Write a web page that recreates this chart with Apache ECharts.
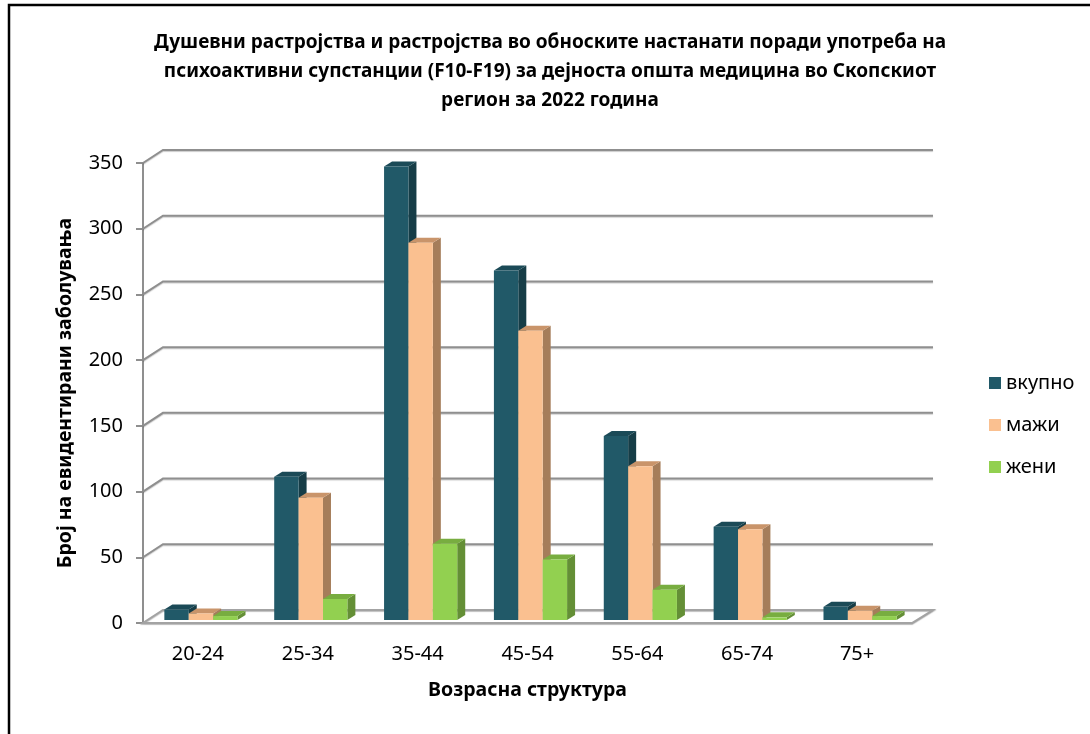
<!DOCTYPE html>
<html>
<head>
<meta charset="utf-8">
<script src="https://cdn.jsdelivr.net/npm/echarts@6/dist/echarts.min.js"></script>
<style>
  html, body { margin: 0; padding: 0; background: #fff; }
  #chart { width: 1090px; height: 734px; }
</style>
</head>
<body>
<div id="chart"></div>
<script>
// Age groups and registered cases per group
const categories = ['20-24', '25-34', '35-44', '45-54', '55-64', '65-74', '75+'];
const seriesNames = ['вкупно', 'мажи', 'жени'];
const totalValues  = [8, 109, 345, 266, 140, 71, 10];
const maleValues   = [5, 93, 287, 220, 117, 69, 7];
const femaleValues = [3, 16, 58, 46, 23, 2, 3];
const yTicks = [0, 50, 100, 150, 200, 250, 300, 350];

const FONT = '"Noto Sans", "DejaVu Sans", sans-serif';

// Pseudo-3D geometry: back wall offset and bar depth offset (pixels)
const WALL_DX = 20, WALL_DY = -13;
const BAR_DX = 8, BAR_DY = -5;
const BAR_SHIFT_X = 3, BAR_SHIFT_Y = -3;

const palette = [
  { front: '#215968', top: '#1b4a57', side: '#163d47' },
  { front: '#fac090', top: '#c9946a', side: '#a57d5a' },
  { front: '#92d050', top: '#78ad40', side: '#648f36' }
];

const gridColor = '#8f8f8f';

function wallRenderer(params, api) {
  const cs = params.coordSys;
  const v = api.value(1);
  const y = api.coord([0, v])[1];
  const left = cs.x, right = cs.x + cs.width;
  const children = [];
  if (v === 0) {
    // floor slab
    children.push({
      type: 'polygon',
      shape: { points: [[left, y], [right, y], [right + WALL_DX + 1, y + WALL_DY], [left + WALL_DX, y + WALL_DY]] },
      style: { fill: '#ffffff', stroke: '#a3a3a3', lineWidth: 2,
               shadowColor: 'rgba(0,0,0,0.25)', shadowOffsetY: 1, shadowBlur: 1 }
    });
  } else {
    children.push({
      type: 'polyline',
      shape: { points: [[left, y], [left + WALL_DX, y + WALL_DY], [right + WALL_DX + 1, y + WALL_DY]] },
      style: { fill: null, stroke: gridColor, lineWidth: 2,
               shadowColor: 'rgba(0,0,0,0.2)', shadowOffsetY: 1, shadowBlur: 1 }
    });
  }
  return { type: 'group', children: children };
}

function barRenderer(idx) {
  const c = palette[idx];
  return function (params, api) {
    const cat = api.value(0);
    const val = api.value(1);
    const base = api.coord([cat, 0]);
    const topPt = api.coord([cat, val]);
    const band = api.size([1, 0])[0];
    const w = band * 0.222;
    const x0 = base[0] + (idx - 1.5) * w + BAR_SHIFT_X;
    const x1 = x0 + w;
    const yb = base[1] + BAR_SHIFT_Y;
    const yt = topPt[1] + BAR_SHIFT_Y;
    return {
      type: 'group',
      children: [
        { type: 'polygon',
          shape: { points: [[x1, yb], [x1 + BAR_DX, yb + BAR_DY], [x1 + BAR_DX, yt + BAR_DY], [x1, yt]] },
          style: { fill: c.side } },
        { type: 'polygon',
          shape: { points: [[x0, yt], [x1, yt], [x1 + BAR_DX, yt + BAR_DY], [x0 + BAR_DX, yt + BAR_DY]] },
          style: { fill: c.top } },
        { type: 'rect',
          shape: { x: x0, y: yt, width: w, height: yb - yt },
          style: { fill: c.front } }
      ]
    };
  };
}

const valueSets = [totalValues, maleValues, femaleValues];

const chart = echarts.init(document.getElementById('chart'), null, { renderer: 'canvas' });

chart.setOption({
  backgroundColor: '#ffffff',
  animation: false,
  title: {
    text: 'Душевни растројства и растројства во обноските настанати поради употреба на\nпсихоактивни супстанции (F10-F19) за дејноста општа медицина во Скопскиот\nрегион за 2022 година',
    left: 545,
    top: 23,
    textAlign: 'center',
    textStyle: { fontFamily: FONT, fontSize: 19, fontWeight: 'bold', color: '#000', lineHeight: 29, align: 'center' }
  },
  legend: {
    orient: 'vertical',
    left: 984,
    top: 367,
    itemGap: 20,
    itemWidth: 12,
    itemHeight: 12,
    icon: 'rect',
    data: seriesNames,
    textStyle: { fontFamily: FONT, fontSize: 20, color: '#000', lineHeight: 22 }
  },
  grid: { left: 143, right: 178, top: 163, bottom: 111, containLabel: false },
  xAxis: {
    type: 'category',
    data: categories,
    axisLine: { show: false },
    axisTick: { show: false },
    axisLabel: { fontFamily: FONT, fontSize: 20, color: '#000', margin: 21 },
    name: 'Возрасна структура',
    nameLocation: 'middle',
    nameGap: 57,
    nameTextStyle: { fontFamily: FONT, fontSize: 19.5, fontWeight: 'bold', color: '#000' }
  },
  yAxis: {
    type: 'value',
    min: 0,
    max: 350,
    interval: 50,
    axisLine: { show: true, lineStyle: { color: gridColor, width: 2 } },
    axisTick: { show: true, length: 7, lineStyle: { color: gridColor, width: 2 } },
    splitLine: { show: false },
    axisLabel: { fontFamily: FONT, fontSize: 20, color: '#000', margin: 20 },
    name: 'Број на евидентирани заболувања',
    nameLocation: 'middle',
    nameGap: 68,
    nameTextStyle: { fontFamily: FONT, fontSize: 19.5, fontWeight: 'bold', color: '#000' }
  },
  series: [
    {
      name: 'wall',
      type: 'custom',
      renderItem: wallRenderer,
      data: yTicks.map(v => [0, v]),
      clip: false,
      silent: true,
      z: 1
    }
  ].concat(seriesNames.map((name, idx) => ({
    name: name,
    type: 'custom',
    renderItem: barRenderer(idx),
    data: valueSets[idx].map((v, i) => [i, v]),
    itemStyle: { color: palette[idx].front },
    clip: false,
    z: 2 + idx
  }))),
  graphic: [
    {
      type: 'rect',
      shape: { x: 9, y: 5, width: 1200, height: 900 },
      style: { fill: null, stroke: '#000', lineWidth: 2.5 },
      silent: true,
      z: 100
    }
  ]
});
</script>
</body>
</html>
